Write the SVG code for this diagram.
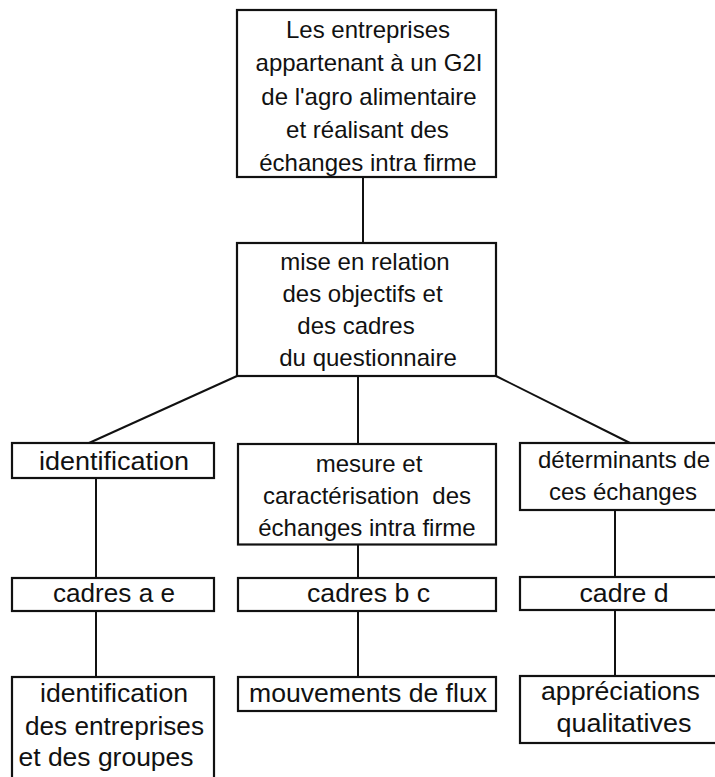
<svg xmlns="http://www.w3.org/2000/svg" width="715" height="777" viewBox="0 0 715 777">
<style>
.box{fill:#fff;stroke:#111;stroke-width:2.2}
.t{font-family:"Liberation Sans",Arial,Helvetica,sans-serif;font-size:24px;fill:#111;text-anchor:middle}
.w{font-size:25px}
.c{stroke:#111;stroke-width:2;fill:none}
</style>
<rect width="715" height="777" fill="#fff"/>
<g id="connectors">
<line class="c" x1="363" y1="177" x2="363" y2="243"/>
<line class="c" x1="237" y1="376" x2="89" y2="443"/>
<line class="c" x1="358" y1="376" x2="358" y2="444"/>
<line class="c" x1="496" y1="376" x2="630" y2="443"/>
<line class="c" x1="96" y1="478" x2="96" y2="578"/>
<line class="c" x1="96" y1="611" x2="96" y2="677"/>
<line class="c" x1="358" y1="544" x2="358" y2="578"/>
<line class="c" x1="358" y1="611" x2="358" y2="677"/>
<line class="c" x1="615" y1="510" x2="615" y2="577"/>
<line class="c" x1="615" y1="610" x2="615" y2="676"/>
</g>
<g id="n-entreprises">
<rect class="box" x="237" y="10" width="259" height="167"/>
<text class="t" x="368" y="38">Les entreprises</text>
<text class="t" x="369" y="71.3">appartenant à un G2I</text>
<text class="t" x="369" y="104.6">de l'agro alimentaire</text>
<text class="t" x="367.5" y="138">et réalisant des</text>
<text class="t" x="368" y="171.3">échanges intra firme</text>
</g>
<g id="n-mise">
<rect class="box" x="237" y="243" width="259" height="133"/>
<text class="t" x="365" y="270">mise en relation</text>
<text class="t" x="362.5" y="302">des objectifs et</text>
<text class="t" x="356" y="334">des cadres</text>
<text class="t" x="368" y="366">du questionnaire</text>
</g>
<g id="n-identification">
<rect class="box" x="12" y="443" width="202" height="35"/>
<text class="t w" x="114" y="470" textLength="150" lengthAdjust="spacingAndGlyphs">identification</text>
</g>
<g id="n-cadres-ae">
<rect class="box" x="12" y="578" width="202" height="33"/>
<text class="t w" x="114" y="602" textLength="122" lengthAdjust="spacingAndGlyphs">cadres a e</text>
</g>
<g id="n-ident-entreprises">
<rect class="box" x="12" y="677" width="202" height="110"/>
<text class="t w" x="114" y="702" textLength="148" lengthAdjust="spacingAndGlyphs">identification</text>
<text class="t w" x="114.5" y="735" textLength="179" lengthAdjust="spacingAndGlyphs">des entreprises</text>
<text class="t w" x="106" y="766" textLength="175" lengthAdjust="spacingAndGlyphs">et des groupes</text>
</g>
<g id="n-mesure">
<rect class="box" x="238" y="444" width="258" height="100.5"/>
<text class="t" x="369" y="472">mesure et</text>
<text class="t" x="367" y="504" xml:space="preserve">caractérisation  des</text>
<text class="t" x="367" y="536">échanges intra firme</text>
</g>
<g id="n-cadres-bc">
<rect class="box" x="238" y="578" width="258" height="33"/>
<text class="t w" x="368.5" y="602" textLength="123" lengthAdjust="spacingAndGlyphs">cadres b c</text>
</g>
<g id="n-mouvements">
<rect class="box" x="238" y="677" width="258" height="34"/>
<text class="t w" x="368" y="702" textLength="238" lengthAdjust="spacingAndGlyphs">mouvements de flux</text>
</g>
<g id="n-determinants">
<rect class="box" x="520" y="443" width="210" height="67"/>
<text class="t" x="624" y="468">déterminants de</text>
<text class="t" x="623" y="500">ces échanges</text>
</g>
<g id="n-cadre-d">
<rect class="box" x="520" y="577" width="210" height="33"/>
<text class="t w" x="624" y="602" textLength="89" lengthAdjust="spacingAndGlyphs">cadre d</text>
</g>
<g id="n-appreciations">
<rect class="box" x="520" y="676" width="210" height="67"/>
<text class="t w" x="620.5" y="700" textLength="159" lengthAdjust="spacingAndGlyphs">appréciations</text>
<text class="t w" x="624" y="732" textLength="135" lengthAdjust="spacingAndGlyphs">qualitatives</text>
</g>
</svg>
